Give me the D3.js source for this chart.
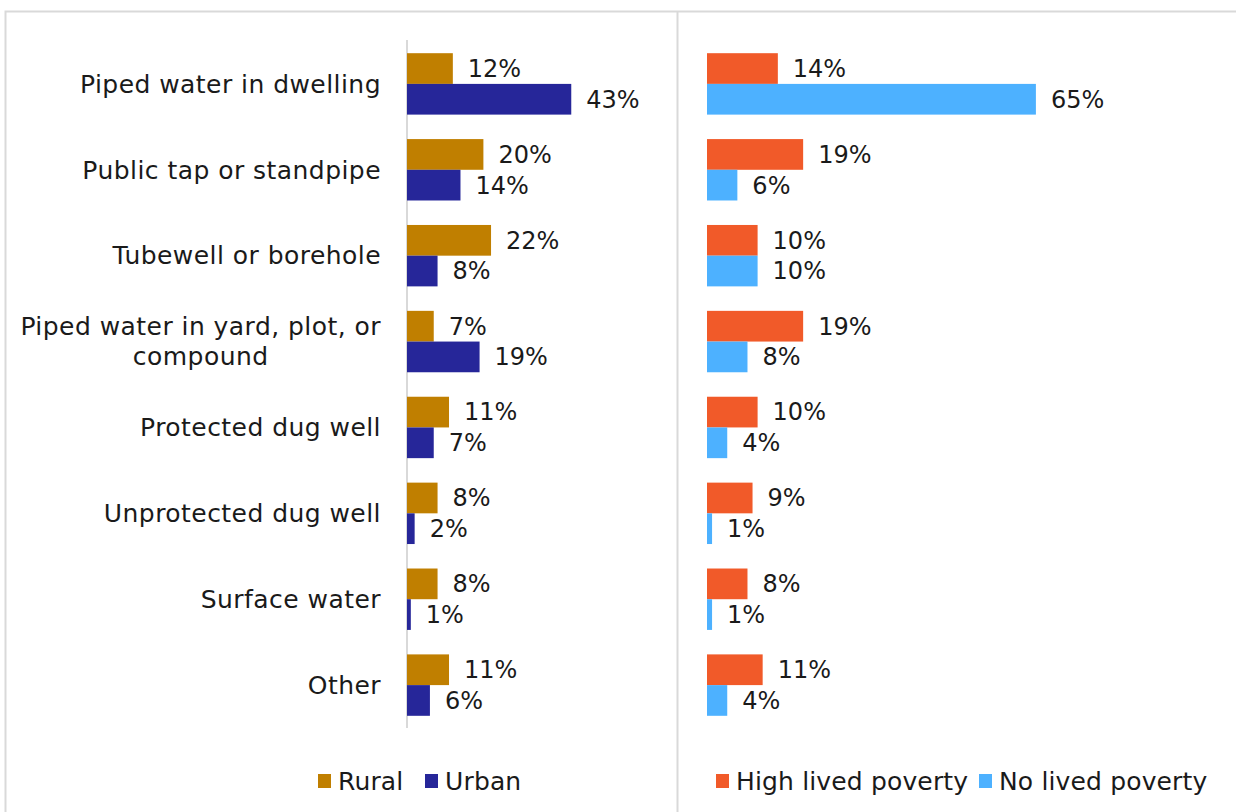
<!DOCTYPE html>
<html><head><meta charset="utf-8">
<script src="https://cdn.jsdelivr.net/npm/d3@7"></script>
<style>html,body{margin:0;padding:0;background:#fff;} svg{display:block;}</style>
</head><body>
<svg id="chart" width="1236" height="812"></svg>
<script>
const categories = ["Piped water in dwelling","Public tap or standpipe","Tubewell or borehole","Piped water in yard, plot, or compound","Protected dug well","Unprotected dug well","Surface water","Other"];
const categoryLines = [["Piped water in dwelling"],["Public tap or standpipe"],["Tubewell or borehole"],["Piped water in yard, plot, or","compound"],["Protected dug well"],["Unprotected dug well"],["Surface water"],["Other"]];
const rural = [12,20,22,7,11,8,8,11];
const urban = [43,14,8,19,7,2,1,6];
const highPoverty = [14,19,10,19,10,9,8,11];
const noPoverty = [65,6,10,8,4,1,1,4];
const leftSeries = [{name:"Rural", values:rural, color:"#C07F00"},{name:"Urban", values:urban, color:"#262699"}];
const rightSeries = [{name:"High lived poverty", values:highPoverty, color:"#F15A29"},{name:"No lived poverty", values:noPoverty, color:"#4DB1FF"}];

const svg = d3.select("#chart");
const FONT = "'DejaVu Sans', sans-serif";
const textColor = "#1a1a1a";
const labelSize = 25, labelSpacing = 0.45, valueSize = 24, legendSpacing = 0.15;

// frame
svg.append("path").attr("d","M5.5,812 V11.5 H1236").attr("fill","none").attr("stroke","#d9d9d9").attr("stroke-width",2);
svg.append("line").attr("x1",677.5).attr("x2",677.5).attr("y1",11).attr("y2",812).attr("stroke","#d9d9d9").attr("stroke-width",2);

const y0 = d3.scaleBand().domain(categories).range([41,728]).paddingInner(0.285).paddingOuter(0.142);
const y1 = d3.scaleBand().domain([0,1]).range([0, y0.bandwidth()]);

const xL = d3.scaleLinear().domain([0,100]).range([407, 407+382]);
const xR = d3.scaleLinear().domain([0,100]).range([707, 707+506]);

// category labels (multi-line labels centered within their block, block right-aligned)
const catG = svg.append("g");
categories.forEach((c,i)=>{
  const lines = categoryLines[i];
  const cy = y0(c) + y0.bandwidth()/2;
  const lh = 30;
  const t = catG.append("text").attr("text-anchor","middle").attr("font-family",FONT)
    .attr("font-size",labelSize).attr("letter-spacing",labelSpacing).attr("fill",textColor);
  const spans = lines.map((l,j)=> t.append("tspan").attr("y", cy + (j - (lines.length-1)/2)*lh).attr("dy","0.35em").text(l));
  const w = d3.max(spans, s=>s.node().getComputedTextLength());
  spans.forEach(s=>s.attr("x", 381 - w/2));
});

// left axis line
svg.append("line").attr("x1",407).attr("x2",407).attr("y1",40).attr("y2",728).attr("stroke","#d9d9d9").attr("stroke-width",2);

function drawPanel(series, x){
  series.forEach((s,si)=>{
    const g = svg.append("g");
    g.selectAll("rect").data(s.values).join("rect")
      .attr("x", x(0))
      .attr("y",(d,i)=>y0(categories[i]) + y1(si))
      .attr("width", d=>x(d)-x(0))
      .attr("height", y1.bandwidth())
      .attr("fill", s.color);
    g.selectAll("text").data(s.values).join("text")
      .attr("x", d=>x(d)+15)
      .attr("y",(d,i)=>y0(categories[i]) + y1(si) + y1.bandwidth()/2)
      .attr("dy","0.35em")
      .attr("font-family",FONT).attr("font-size",valueSize).attr("fill",textColor)
      .text(d=>d+"%");
  });
}
drawPanel(leftSeries, xL);
drawPanel(rightSeries, xR);

// legends
function legend(series, xs){
  series.forEach((s,i)=>{
    svg.append("rect").attr("x",xs[i]).attr("y",774).attr("width",13).attr("height",14).attr("fill",s.color);
    svg.append("text").attr("x",xs[i]+20).attr("y",781).attr("dy","0.35em")
      .attr("font-family",FONT).attr("font-size",labelSize).attr("letter-spacing",legendSpacing).attr("fill",textColor).text(s.name);
  });
}
legend(leftSeries,[318,425]);
legend(rightSeries,[716,979]);
</script>
</body></html>
